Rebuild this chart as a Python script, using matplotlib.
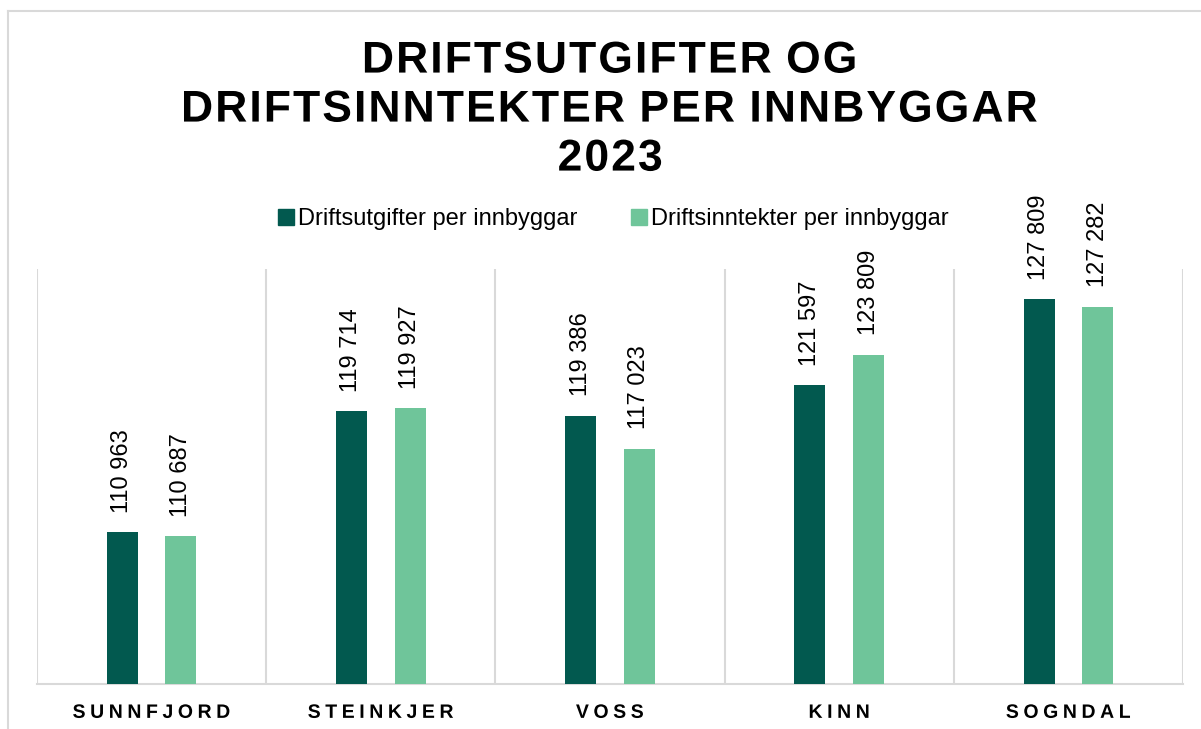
import numpy as np
import matplotlib.pyplot as plt
from matplotlib.lines import Line2D
from matplotlib.path import Path
from matplotlib.transforms import Affine2D
from matplotlib.patheffects import AbstractPathEffect

plt.rcParams['font.family'] = ['Liberation Sans', 'DejaVu Sans']

kommunar = ['SUNNFJORD', 'STEINKJER', 'VOSS', 'KINN', 'SOGNDAL']
utgifter = [110963, 119714, 119386, 121597, 127809]
inntekter = [110687, 119927, 117023, 123809, 127282]
serie_namn = ['Driftsutgifter per innbyggar', 'Driftsinntekter per innbyggar']

dark = '#02594F'
light = '#6FC59A'
grid_c = '#D9D9D9'


class Sperring(AbstractPathEffect):
    """Ekstra bokstavavstand (gap i punkt) for vassrett, sentrert tekst."""
    def __init__(self, gap):
        super().__init__()
        self.gap = gap

    def draw_path(self, renderer, gc, tpath, affine, rgbFace=None):
        p = affine.transform_path(tpath)
        verts, codes = p.vertices.copy(), p.codes
        if codes is None:
            renderer.draw_path(gc, p, Affine2D(), rgbFace)
            return
        starts = np.where(codes == Path.MOVETO)[0]
        ends = list(starts[1:]) + [len(codes)]
        bits = sorted([(s, e, verts[s:e, 0].min(), verts[s:e, 0].max())
                       for s, e in zip(starts, ends)], key=lambda q: q[2])
        groups = []
        for s, e, x0, x1 in bits:
            if groups and x0 < groups[-1][1] - 2:
                groups[-1][0].append((s, e))
                groups[-1][1] = max(groups[-1][1], x1)
            else:
                groups.append([[(s, e)], x1])
        g = renderer.points_to_pixels(self.gap)
        shift = -(len(groups) - 1) * g / 2
        for k, (idx, _) in enumerate(groups):
            for s, e in idx:
                verts[s:e, 0] += k * g + shift
        renderer.draw_path(gc, Path(verts, codes), Affine2D(), rgbFace)


def fmt(v):
    return '{:,}'.format(v).replace(',', ' ')

fig = plt.figure(figsize=(12.01, 7.29), dpi=100)
ax = fig.add_axes([0.0308, 0.0617, 0.9542, 0.5693])

x = np.arange(len(kommunar))
w = 0.135
b1 = ax.bar(x - 0.128, utgifter, w, color=dark, label=serie_namn[0], zorder=3)
b2 = ax.bar(x + 0.128, inntekter, w, color=light, label=serie_namn[1], zorder=3)

for bars, vals in [(b1, utgifter), (b2, inntekter)]:
    for r, v in zip(bars, vals):
        ax.annotate(fmt(v), (r.get_x() + r.get_width() / 2, v),
                    xytext=(0, 14), textcoords='offset points',
                    rotation=90, ha='center', va='bottom', fontsize=17)

ax.set_ylim(100000, 130000)
ax.set_xlim(-0.5, len(kommunar) - 0.5)
for b in np.arange(-0.5, len(kommunar), 1.0):
    ax.axvline(b, color=grid_c, lw=1.5, zorder=1)

for s in ['top', 'left', 'right']:
    ax.spines[s].set_visible(False)
ax.spines['bottom'].set_color(grid_c)
ax.spines['bottom'].set_linewidth(1.5)
ax.set_yticks([])
ax.set_xticks(x)
ax.set_xticklabels(kommunar, fontsize=14, fontweight='bold')
plt.setp(ax.get_xticklabels(), path_effects=[Sperring(3.3)])
ax.tick_params(axis='x', length=0, pad=15)

fig.text(0.508, 0.849, 'DRIFTSUTGIFTER OG\nDRIFTSINNTEKTER PER INNBYGGAR\n2023',
         ha='center', va='center', fontsize=32, fontweight='bold', linespacing=1.25,
         path_effects=[Sperring(1.5)])

handles = [Line2D([], [], marker='s', ls='', color=dark, markersize=12),
           Line2D([], [], marker='s', ls='', color=light, markersize=12)]
fig.legend(handles, serie_namn, loc='center', bbox_to_anchor=(0.51, 0.699), ncol=2,
           frameon=False, fontsize=17, handlelength=0.8, handletextpad=0.1,
           columnspacing=2.2)

# ramme rundt diagrammet
fig.add_artist(Line2D([8 / 1201, 1.0], [1 - 11 / 729, 1 - 11 / 729], color=grid_c, lw=1.5))
fig.add_artist(Line2D([8 / 1201, 8 / 1201], [0, 1 - 11 / 729], color=grid_c, lw=1.5))

fig.savefig('out.png', dpi=100)
